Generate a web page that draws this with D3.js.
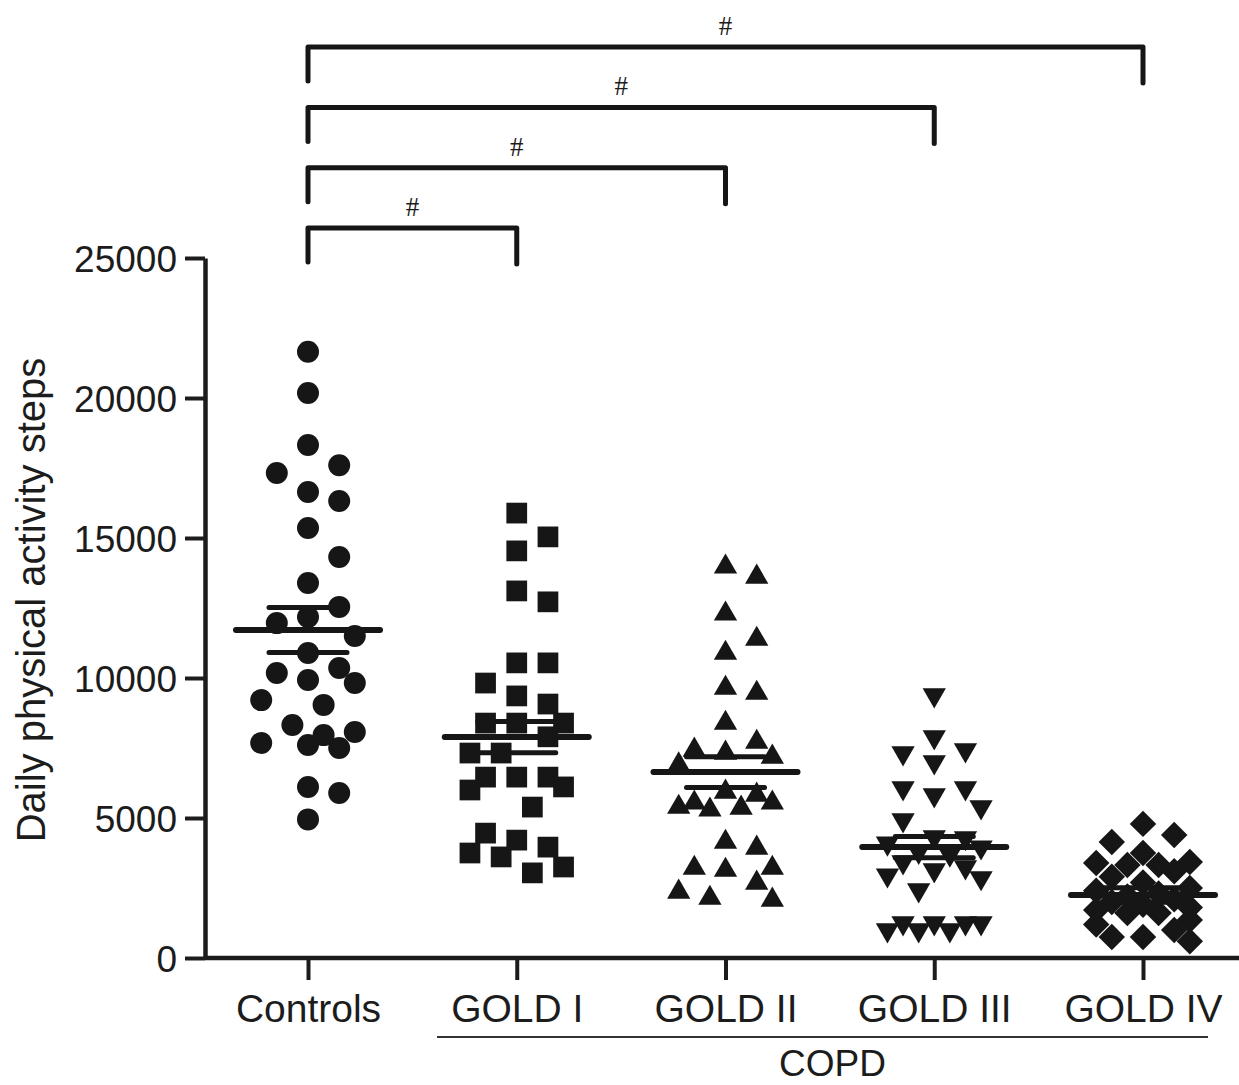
<!DOCTYPE html>
<html lang="en">
<head>
    <meta charset="utf-8">
    <title>Daily physical activity steps</title>
    <style>
        body {
            margin: 0;
            background: #fff;
        }
        text {
            font-family: "Liberation Sans", Arial, sans-serif;
            fill: #1c1c1c;
        }
    </style>
</head>
<body>
<svg class="chart"></svg>
<script src="https://d3js.org/d3.v7.min.js"></script>
<script>
    const chartWidth = 1239;
    const chartHeight = 1085;

    // groups on the x axis
    const categories = ["Controls", "GOLD I", "GOLD II", "GOLD III", "GOLD IV"];
    // steps per subject
    const controls = [21650, 20180, 18320, 17600, 17320, 16640, 16320, 15360, 14320, 13390, 12540, 12180,
        11960, 11500, 10890, 10360, 10180, 9930, 9820, 9210, 9040, 8320, 8070, 7960, 7680, 7610, 7500,
        6110, 5890, 4950];
    const gold1 = [15890, 15040, 14540, 13110, 12720, 10540, 10540, 9820, 9360, 9070, 8390, 8390, 8390,
        7900, 7320, 7320, 6460, 6460, 6460, 6110, 6000, 5390, 4460, 4210, 3960, 3750, 3610, 3250, 3040];
    const gold2 = [13970, 13610, 12290, 11390, 10890, 9640, 9460, 8390, 7710, 7430, 7320, 7180, 6900,
        5930, 5820, 5540, 5540, 5390, 5360, 5290, 4140, 3930, 3210, 3140, 3210, 2680, 2360, 2140, 2070];
    const gold3 = [9390, 7890, 7430, 7320, 7000, 6070, 6070, 5820, 5390, 4930, 4320, 4290, 4100, 3960,
        3800, 3700, 3430, 3250, 3140, 2960, 2860, 2430, 1250, 1000, 1250, 1000, 1250, 1000, 1250];
    const gold4 = [4790, 4390, 4140, 3750, 3430, 3390, 3320, 3320, 3100, 2900, 2700, 2500, 2400, 2300,
        2200, 2100, 2000, 1900, 1800, 1710, 1610, 1610, 1360, 1200, 1000, 750, 750, 600];
    // mean and SEM drawn as horizontal bars
    const means = [11714, 7890, 6640, 3960, 2250];
    const sems = [800, 560, 550, 380, 260];
    const yTicks = [0, 5000, 10000, 15000, 20000, 25000];
    // significance brackets: Controls vs each COPD stage
    const comparisons = ["GOLD I", "GOLD II", "GOLD III", "GOLD IV"];
    const compLabels = ["#", "#", "#", "#"];

    const groups = [controls, gold1, gold2, gold3, gold4];
    const symbols = ["circle", "square", "triangle", "triangleDown", "diamond"];

    const svg = d3.select("svg").attr("width", chartWidth).attr("height", chartHeight);

    const plotLeft = 205, plotRight = 1239;
    const x = d3.scalePoint().domain(categories).range([308, 1143]);
    const y = d3.scaleLinear().domain([0, 25000]).range([958, 258]);

    // y axis
    const yAxis = svg.append("g")
        .attr("transform", "translate(" + plotLeft + ",0)")
        .call(d3.axisLeft(y).tickValues(yTicks).tickSize(20).tickSizeOuter(0).tickPadding(8)
            .tickFormat(d3.format("d")));
    yAxis.select(".domain").attr("stroke-width", 4.5).attr("stroke", "#1c1c1c");
    yAxis.selectAll(".tick line").attr("stroke-width", 4).attr("stroke", "#1c1c1c");
    yAxis.selectAll(".tick text").style("font-size", "37px").attr("dy", "0.36em");

    // x axis
    const xAxis = svg.append("g")
        .attr("transform", "translate(0," + y(0) + ")")
        .call(d3.axisBottom(x).tickSize(22).tickSizeOuter(0).tickPadding(14));
    xAxis.select(".domain").attr("d", "M" + plotLeft + ",0H" + plotRight)
        .attr("stroke-width", 4.5).attr("stroke", "#1c1c1c");
    xAxis.selectAll(".tick line").attr("stroke-width", 4).attr("stroke", "#1c1c1c");
    xAxis.selectAll(".tick text").style("font-size", "39px").attr("dy", "0.71em");

    // COPD grouping line
    svg.append("line")
        .attr("x1", 437).attr("x2", 1208)
        .attr("y1", 1037).attr("y2", 1037)
        .attr("stroke", "#333").attr("stroke-width", 2);
    svg.append("text")
        .attr("x", (437 + 1208) / 2 + 10).attr("y", 1076)
        .attr("text-anchor", "middle")
        .style("font-size", "37px")
        .text("COPD");

    // y axis title
    svg.append("text")
        .attr("transform", "translate(45," + 600 + ") rotate(-90)")
        .attr("text-anchor", "middle")
        .style("font-size", "40px")
        .text("Daily physical activity steps");

    // scatter: place points in columns so they don't pile up too much
    const markSize = 22;
    const markGapY = 30;
    const slotW = 15.6;
    function columnSlots(vals) {
        const placed = [];
        const res = new Array(vals.length);
        const order = d3.range(vals.length).sort((a, b) => vals[b] - vals[a]);
        const slots = [0, 2, -2, 1, -1, 3, -3];
        order.forEach(function(i) {
            const py = y(vals[i]);
            let best = 0, bestCost = Infinity;
            for (const s of slots) {
                let cost = 0;
                for (const p of placed) {
                    const dx = Math.abs(s - p.s) * slotW, dy = Math.abs(py - p.y);
                    if (dx < markSize && dy < markGapY) cost += (markSize - dx) * (markGapY - dy);
                }
                if (cost === 0) { best = s; break; }
                if (cost < bestCost) { bestCost = cost; best = s; }
            }
            placed.push({s: best, y: py});
            res[i] = best;
        });
        return res;
    }

    const symbolPath = {
        circle: d3.symbol().type(d3.symbolCircle).size(380)(),
        square: d3.symbol().type(d3.symbolSquare).size(430)(),
        triangle: d3.symbol().type(d3.symbolTriangle).size(235)(),
        triangleDown: d3.symbol().type(d3.symbolTriangle).size(235)(),
        diamond: d3.symbol().type(d3.symbolSquare).size(350)()
    };
    const symbolRotate = {circle: 0, square: 0, triangle: 0, triangleDown: 180, diamond: 45};

    groups.forEach(function(vals, gi) {
        const slots = columnSlots(vals);
        const sym = symbols[gi];
        svg.append("g").attr("class", "series")
            .selectAll("path")
            .data(vals)
            .enter()
            .append("path")
            .attr("d", symbolPath[sym])
            .attr("transform", function(d, i) {
                return "translate(" + (x(categories[gi]) + slots[i] * slotW) + "," + y(d) + ") rotate(" + symbolRotate[sym] + ")";
            })
            .attr("fill", "#161616");
    });

    // mean and SEM bars
    const stats = svg.append("g").attr("class", "stats");
    categories.forEach(function(c, gi) {
        stats.append("line")
            .attr("x1", x(c) - 72).attr("x2", x(c) + 72)
            .attr("y1", y(means[gi])).attr("y2", y(means[gi]))
            .attr("stroke", "#161616").attr("stroke-width", 6).attr("stroke-linecap", "round");
        [means[gi] + sems[gi], means[gi] - sems[gi]].forEach(function(v) {
            stats.append("line")
                .attr("x1", x(c) - 39).attr("x2", x(c) + 39)
                .attr("y1", y(v)).attr("y2", y(v))
                .attr("stroke", "#161616").attr("stroke-width", 5).attr("stroke-linecap", "round");
        });
    });

    // significance brackets
    const br = svg.append("g").attr("class", "brackets");
    comparisons.forEach(function(c, k) {
        const top = 228 - k * 60.3;
        const x0 = x(categories[0]), x1 = x(c);
        br.append("path")
            .attr("d", "M" + x0 + "," + (top + 34) + "V" + top + "H" + x1 + "V" + (top + 36))
            .attr("fill", "none").attr("stroke", "#161616").attr("stroke-width", 5)
            .attr("stroke-linejoin", "round").attr("stroke-linecap", "round");
        br.append("text")
            .attr("x", (x0 + x1) / 2).attr("y", top - 12)
            .attr("text-anchor", "middle")
            .style("font-family", "'Liberation Serif', serif")
            .style("font-size", "27px")
            .text(compLabels[k]);
    });
</script>
</body>
</html>
